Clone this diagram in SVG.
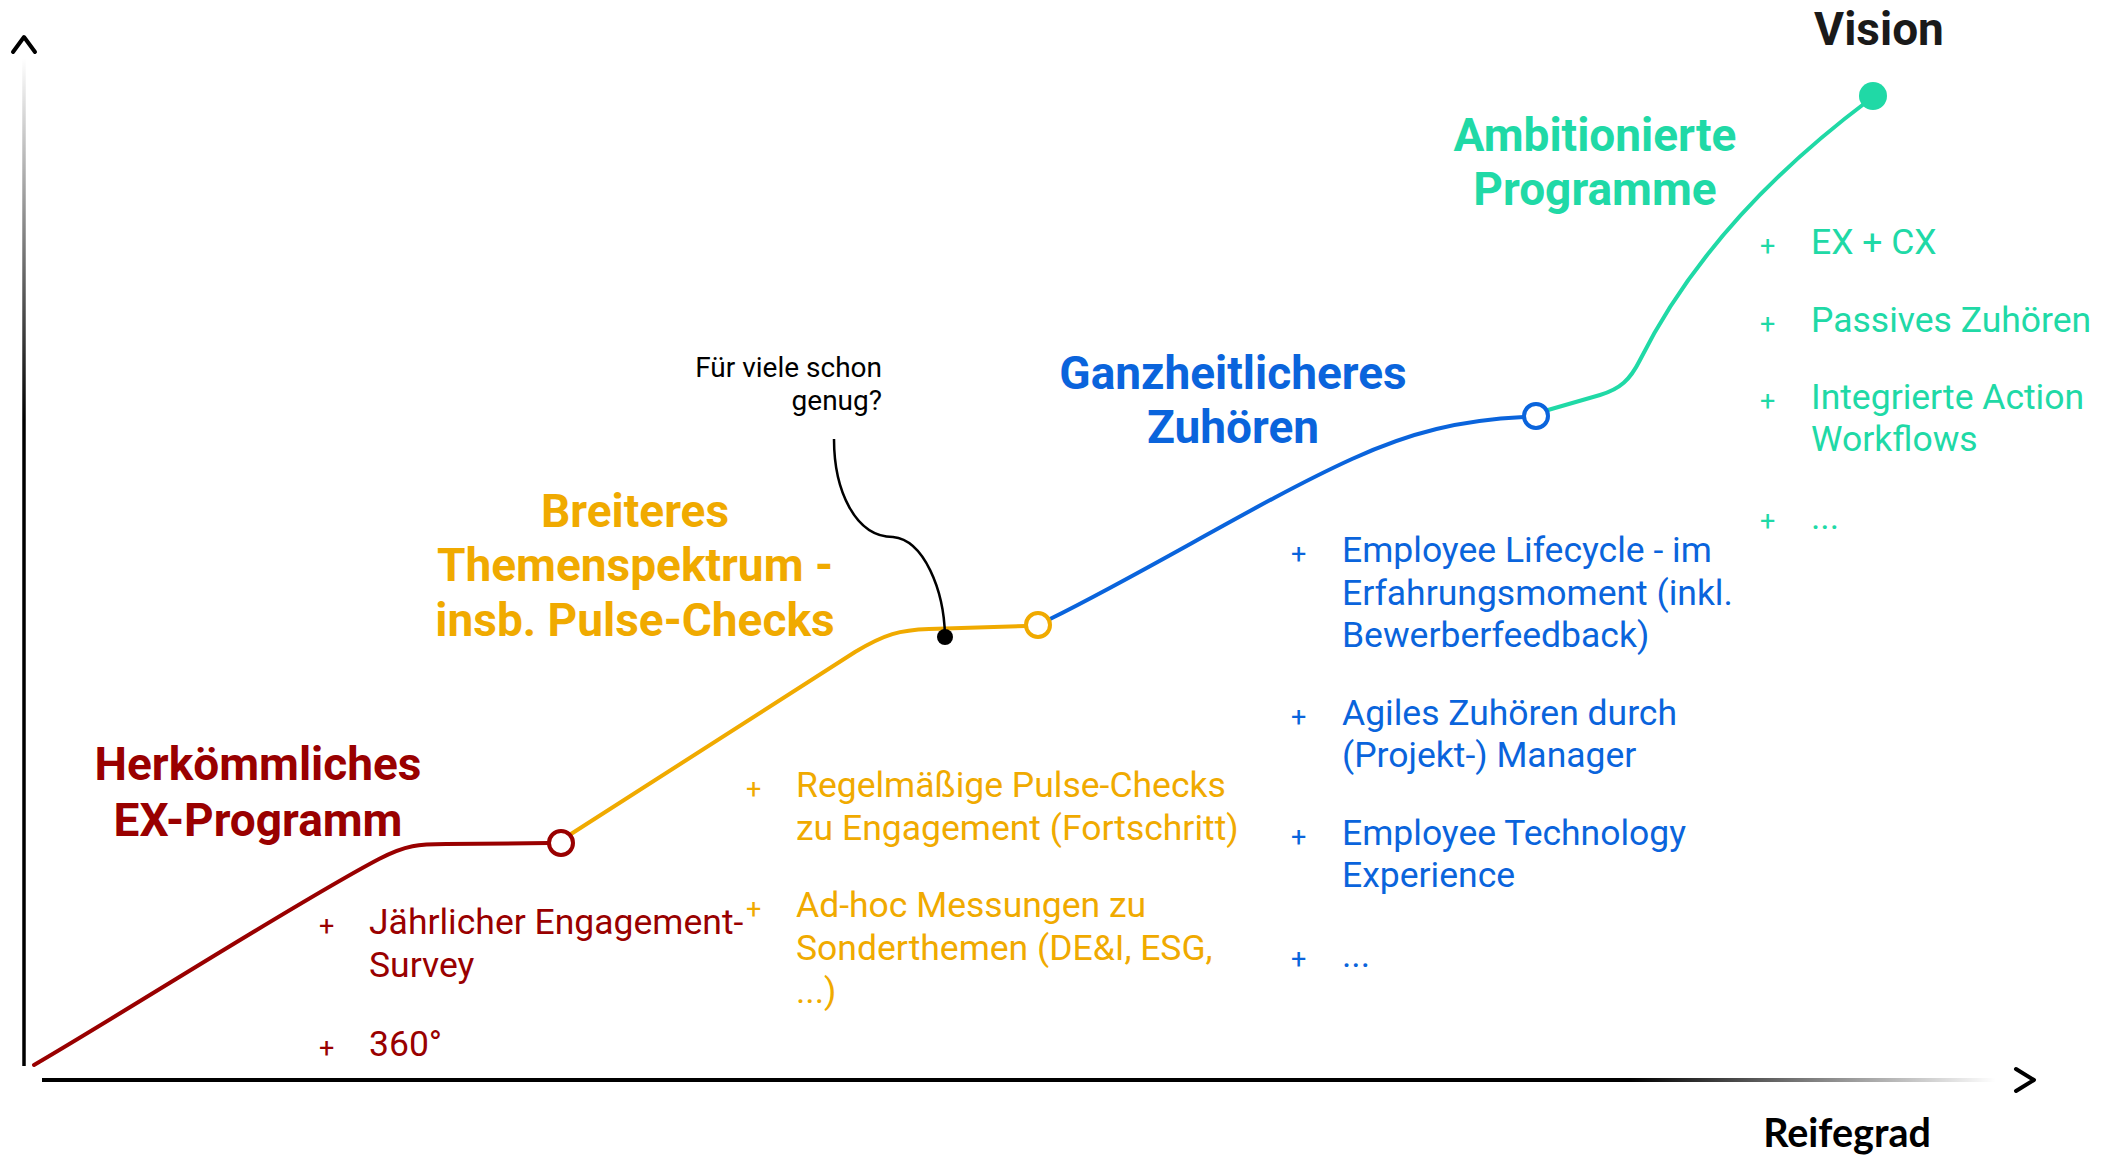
<svg xmlns="http://www.w3.org/2000/svg" width="2119" height="1157" viewBox="0 0 2119 1157">
<style>
.h{font-family:Roboto,"Noto Sans",sans-serif;font-weight:700;font-size:46px;text-anchor:middle}
.it{font-family:Roboto,"Noto Sans",sans-serif;font-size:35.5px}
.pl{font-family:Roboto,"Noto Sans",sans-serif;font-size:27px}
.red{fill:#990000}.org{fill:#F0AA00}.blu{fill:#0A64DC}.grn{fill:#20D9A6}
.curve{fill:none;stroke-width:4;stroke-linecap:round}
</style>
<defs>
<linearGradient id="gy" gradientUnits="userSpaceOnUse" x1="0" y1="58" x2="0" y2="420">
<stop offset="0" stop-color="#000" stop-opacity="0"/><stop offset="1" stop-color="#000"/>
</linearGradient>
<linearGradient id="gx" gradientUnits="userSpaceOnUse" x1="1630" y1="0" x2="1996" y2="0">
<stop offset="0" stop-color="#000"/><stop offset="1" stop-color="#000" stop-opacity="0"/>
</linearGradient>
</defs>
<rect width="2119" height="1157" fill="#fff"/>
<g id="axes">
<line x1="24" y1="58" x2="24" y2="1066" stroke="url(#gy)" stroke-width="3.5"/>
<polyline points="13,52 24,37 35,52" fill="none" stroke="#000" stroke-width="4" stroke-linecap="round" stroke-linejoin="round"/>
<line x1="42" y1="1080" x2="1996" y2="1080" stroke="url(#gx)" stroke-width="4"/>
<polyline points="2016,1069 2034,1080 2016,1091" fill="none" stroke="#000" stroke-width="4" stroke-linecap="round" stroke-linejoin="round"/>
<text x="1847" y="1147" font-family="Lato,'Open Sans',sans-serif" font-weight="700" font-size="39.5" text-anchor="middle" fill="#000">Reifegrad</text>
</g>
<g id="connectors">
<path class="curve" stroke="#990000" d="M34,1065 C135,1006 297,902 379,859 C406,845 419,844 446,844 L549,843"/>
<path class="curve" stroke="#F0AA00" d="M571,834 L855,652 C885,634 900,630 929,629 L1026,626"/>
<path class="curve" stroke="#0A64DC" d="M1050,619 C1153,568 1262,500 1352,459 C1411,432 1461,420 1524,417"/>
<path class="curve" stroke="#20D9A6" d="M1548,410 L1600,395 C1620,389 1630,380 1640,360 C1680,280 1749,190 1869,100"/>
<path fill="none" stroke="#000" stroke-width="2.5" d="M834,439 C834,490 855,537 893,537 C924,540 944,590 945,636"/>
</g>
<g id="stage1">
<circle cx="561" cy="843" r="12" fill="#fff" stroke="#990000" stroke-width="4"/>
<text class="h red" x="258" y="780">Herkömmliches</text>
<text class="h red" x="258" y="836">EX-Programm</text>
<text class="pl red" x="319" y="935">+</text><text class="it red" x="369" y="934">Jährlicher Engagement-</text>
<text class="it red" x="369" y="977">Survey</text>
<text class="pl red" x="319" y="1057">+</text><text class="it red" x="369" y="1056">360°</text>
</g>
<g id="stage2">
<circle cx="1038" cy="625" r="12" fill="#fff" stroke="#F0AA00" stroke-width="4"/>
<text class="h org" x="635" y="527">Breiteres</text>
<text class="h org" x="635" y="581">Themenspektrum -</text>
<text class="h org" x="635" y="636">insb. Pulse-Checks</text>
<text class="pl org" x="746" y="798">+</text><text class="it org" x="796" y="797">Regelmäßige Pulse-Checks</text>
<text class="it org" x="796" y="840">zu Engagement (Fortschritt)</text>
<text class="pl org" x="746" y="918">+</text><text class="it org" x="796" y="917">Ad-hoc Messungen zu</text>
<text class="it org" x="796" y="960">Sonderthemen (DE&amp;I, ESG,</text>
<text class="it org" x="796" y="1003">...)</text>
</g>
<g id="callout">
<circle cx="945" cy="637" r="8" fill="#000"/>
<text font-family="Roboto,'Noto Sans',sans-serif" font-size="28" text-anchor="end" fill="#000"><tspan x="882" y="377">Für viele schon</tspan><tspan x="882" y="410">genug?</tspan></text>
</g>
<g id="stage3">
<circle cx="1536" cy="416" r="12" fill="#fff" stroke="#0A64DC" stroke-width="4"/>
<text class="h blu" x="1233" y="389">Ganzheitlicheres</text>
<text class="h blu" x="1233" y="443">Zuhören</text>
<text class="pl blu" x="1291" y="563">+</text><text class="it blu" x="1342" y="562">Employee Lifecycle - im</text>
<text class="it blu" x="1342" y="605">Erfahrungsmoment (inkl.</text>
<text class="it blu" x="1342" y="647">Bewerberfeedback)</text>
<text class="pl blu" x="1291" y="726">+</text><text class="it blu" x="1342" y="725">Agiles Zuhören durch</text>
<text class="it blu" x="1342" y="767">(Projekt-) Manager</text>
<text class="pl blu" x="1291" y="846">+</text><text class="it blu" x="1342" y="845">Employee Technology</text>
<text class="it blu" x="1342" y="887">Experience</text>
<text class="pl blu" x="1291" y="968">+</text><text class="it blu" x="1342" y="967">...</text>
</g>
<g id="stage4">
<circle cx="1873" cy="96" r="14" fill="#20D9A6"/>
<text class="h grn" x="1595" y="151">Ambitionierte</text>
<text class="h grn" x="1595" y="205">Programme</text>
<text class="pl grn" x="1760" y="255">+</text><text class="it grn" x="1811" y="254">EX + CX</text>
<text class="pl grn" x="1760" y="333">+</text><text class="it grn" x="1811" y="332">Passives Zuhören</text>
<text class="pl grn" x="1760" y="410">+</text><text class="it grn" x="1811" y="409">Integrierte Action</text>
<text class="it grn" x="1811" y="451">Workflows</text>
<text class="pl grn" x="1760" y="530">+</text><text class="it grn" x="1811" y="529">...</text>
</g>
<g id="vision">
<text x="1879" y="45" font-family="Roboto,'Noto Sans',sans-serif" font-weight="700" font-size="46" text-anchor="middle" fill="#1a1a1a">Vision</text>
</g>
</svg>
